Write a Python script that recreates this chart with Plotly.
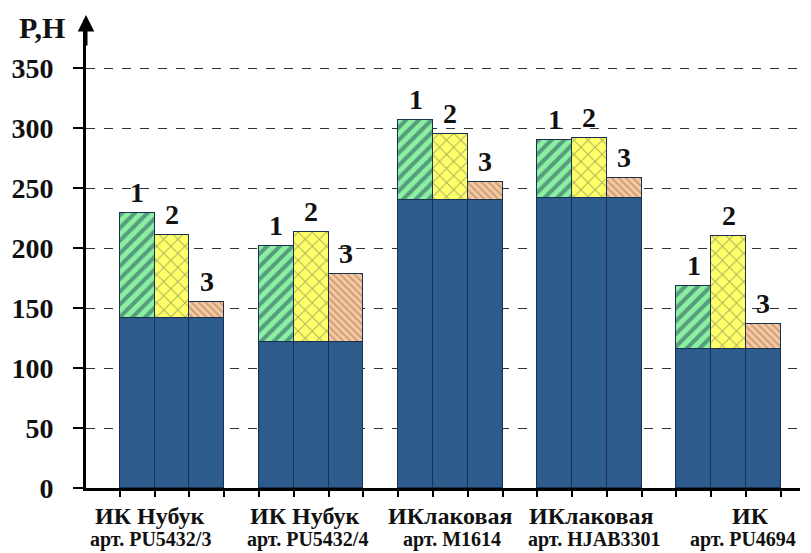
import plotly.graph_objects as go

# Groups of samples (two-line category captions)
group_line1 = ["ИК Нубук", "ИК Нубук", "ИКлаковая", "ИКлаковая", "ИК"]
group_line2 = ["арт. PU5432/3", "арт. PU5432/4", "арт. M1614", "арт. HJAB3301", "арт. PU4694"]

# Base force (blue part), P, H
base_force = [142, 122, 240, 242, 116]
# Total force for variants 1, 2, 3, P, H
total_v1 = [229, 202, 307, 290, 168]
total_v2 = [211, 213, 295, 292, 210]
total_v3 = [155, 178, 255, 258, 137]

variant_labels = ["1", "2", "3"]
y_ticks = [0, 50, 100, 150, 200, 250, 300, 350]

SERIF = "Liberation Serif"
GROUP_STEP = 4  # three bars plus a gap

totals = [total_v1, total_v2, total_v3]
n_groups = len(base_force)

def bar_x(g, k):
    return g * GROUP_STEP + k

fig = go.Figure()

# Blue base segment under every bar
base_x, base_y = [], []
for g in range(n_groups):
    for k in range(3):
        base_x.append(bar_x(g, k))
        base_y.append(base_force[g])

fig.add_trace(go.Bar(
    x=base_x, y=base_y, width=1.0,
    marker=dict(color="#2D5C8C", line=dict(color="#1A3050", width=1.5)),
    showlegend=False, hoverinfo="skip",
))

patterns = [
    dict(shape="/", bgcolor="#8CF0A2", fgcolor="#1D4A57", size=9, solidity=0.45),
    dict(shape="x", bgcolor="#FFFF6A", fgcolor="#55604A", size=10, solidity=0.18),
    dict(shape="\\", bgcolor="#F5C9A2", fgcolor="#A0704A", size=5, solidity=0.35),
]

for k in range(3):
    xs = [bar_x(g, k) for g in range(n_groups)]
    ys = [totals[k][g] - base_force[g] for g in range(n_groups)]
    fig.add_trace(go.Bar(
        x=xs, y=ys, width=1.0,
        marker=dict(color=patterns[k]["bgcolor"], pattern=patterns[k],
                    line=dict(color="#1A3050", width=1.5)),
        showlegend=False, hoverinfo="skip",
    ))
    # variant number above each bar
    for g in range(n_groups):
        fig.add_annotation(
            x=xs[g], y=totals[k][g], text=variant_labels[k],
            showarrow=False, yanchor="bottom", yshift=3, xanchor="center",
            font=dict(family=SERIF, size=28, color="#111", weight="bold"),
        )

# Category captions under each group
line1_x = [0.37, 4.83, 9.0, 13.05, 17.64]
line2_x = [0.37, 4.9, 9.05, 13.15, 17.4]
for g in range(n_groups):
    fig.add_annotation(x=line1_x[g], xref="x", y=-0.060, yref="paper",
                       xanchor="center", yanchor="middle",
                       text=group_line1[g], showarrow=False,
                       font=dict(family=SERIF, size=24, color="#111", weight="bold"))
    fig.add_annotation(x=line2_x[g], xref="x", y=-0.109, yref="paper",
                       xanchor="center", yanchor="middle",
                       text=group_line2[g], showarrow=False,
                       font=dict(family=SERIF, size=20, color="#111", weight="bold"))

# Y axis title and arrow head
fig.add_annotation(x=-0.062, xref="paper", y=0.985, yref="paper",
                   xanchor="center", yanchor="middle",
                   text="P,H", showarrow=False,
                   font=dict(family=SERIF, size=30, color="#111", weight="bold"))
fig.add_annotation(x=0, xref="paper", y=1.0107, yref="paper", ax=0, ay=32,
                   text="", showarrow=True, arrowhead=2, arrowsize=1.1,
                   arrowwidth=3, arrowcolor="black")

# x ticks at every bar boundary
x_tick_vals = []
for g in range(n_groups):
    for k in range(4):
        x_tick_vals.append(bar_x(g, 0) - 0.5 + k)

fig.update_layout(
    width=811, height=553,
    margin=dict(l=86, r=11, t=20, b=65),
    plot_bgcolor="white", paper_bgcolor="white",
    barmode="stack", bargap=0,
    xaxis=dict(range=[-1.47, 19.05], tickvals=x_tick_vals,
               ticktext=[""] * len(x_tick_vals), ticks="outside", ticklen=6,
               tickwidth=2, tickcolor="black", showgrid=False, zeroline=False,
               showline=True, linewidth=3, linecolor="black"),
    yaxis=dict(range=[0, 390], tickvals=y_ticks, ticks="outside", ticklen=10,
               tickwidth=2, tickcolor="black", showline=True, linewidth=3,
               linecolor="black", showgrid=True, gridcolor="#333",
               griddash="dash", gridwidth=1, zeroline=False,
               ticklabelstandoff=14,
               tickfont=dict(family=SERIF, size=28, color="#111", weight="bold")),
)

fig.write_html("out.html")
